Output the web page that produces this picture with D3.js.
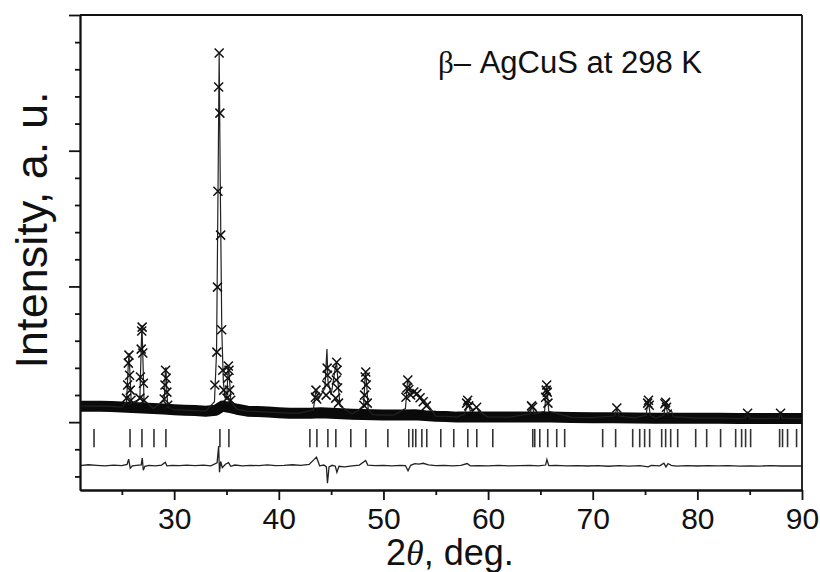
<!DOCTYPE html>
<html>
<head>
<meta charset="utf-8">
<script src="https://cdn.jsdelivr.net/npm/d3@7"></script>
<style>
  body { margin: 0; background: #fff; }
  svg { display: block; font-family: "Liberation Sans", Arial, sans-serif; }
</style>
</head>
<body>
<div class="xrd-chart"></div>
<script>
// Background level of the observed pattern (2theta, counts).
const bgPoints = [
  [21, 118], [22, 118], [23, 118], [24, 116], [25, 111], [26, 108], [27, 104],
  [28, 100], [29, 96], [30, 92], [31, 88], [32, 85], [33, 81], [34, 88],
  [34.6, 118], [35.2, 110], [36, 95], [37, 81], [38, 78], [39, 74], [40, 70],
  [41, 66], [42, 66], [43, 66], [44, 70], [45, 66], [46, 62], [47, 59], [48, 57],
  [49, 55], [50, 52], [51, 52], [52, 52], [53, 55], [54, 48], [55, 44], [56, 42],
  [57, 37], [58, 37], [60, 37], [62, 37], [64, 37], [66, 37], [68, 35], [70, 33],
  [72, 33], [74, 31], [76, 29], [78, 29], [80, 29], [82, 29], [84, 27], [86, 26],
  [88, 26], [90, 26]
];

// Observed points on the reflections (crosses).
const obsPoints = [
  [25.45, 177], [25.55, 273], [25.62, 435], [25.68, 494], [25.74, 346], [25.80, 236], [25.88, 162],
  [26.72, 177], [26.78, 332], [26.85, 538], [26.90, 671], [26.94, 700], [27.00, 509], [27.06, 287], [27.12, 162],
  [29.05, 170], [29.12, 273], [29.18, 383], [29.24, 324], [29.30, 221], [29.38, 125],
  [33.89, 273], [34.08, 516], [34.14, 995], [34.18, 1702], [34.25, 2469], [34.30, 2720],
  [34.37, 2277], [34.44, 1378], [34.54, 681], [34.64, 383], [34.74, 236],
  [35.05, 177], [35.12, 324], [35.18, 413], [35.24, 383], [35.30, 236], [35.40, 162],
  [43.50, 184], [43.55, 236], [43.62, 170],
  [44.52, 199], [44.58, 273], [44.62, 398], [44.66, 346],
  [45.44, 177], [45.49, 310], [45.53, 442], [45.57, 383], [45.62, 251], [45.70, 140],
  [48.12, 125], [48.20, 199], [48.26, 332], [48.31, 369], [48.36, 273], [48.45, 140],
  [52.15, 184], [52.25, 251], [52.33, 310], [52.42, 240], [52.60, 200], [52.90, 222],
  [53.20, 210], [53.50, 180], [53.80, 150], [54.10, 120],
  [57.95, 140], [58.05, 162], [58.15, 120], [58.90, 110],
  [64.15, 120], [64.25, 110],
  [65.50, 184], [65.56, 236], [65.60, 273], [65.65, 221], [65.72, 140],
  [72.30, 104], [75.25, 140], [75.33, 162], [75.40, 125],
  [76.90, 135], [76.97, 147], [77.05, 110], [84.80, 66], [87.95, 66]
];

// Calculated profile on the reflections.
const calcPeakPoints = [
  [25.45, 150], [25.60, 400], [25.68, 509], [25.76, 380], [25.90, 140],
  [26.72, 170], [26.84, 520], [26.92, 715], [27.00, 500], [27.12, 160],
  [29.05, 160], [29.17, 398], [29.22, 400], [29.30, 220], [29.40, 110],
  [33.85, 150], [34.05, 516], [34.20, 1800], [34.30, 2720], [34.40, 1800], [34.55, 681], [34.70, 300], [34.85, 180],
  [35.02, 170], [35.15, 380], [35.20, 420], [35.28, 330], [35.42, 150],
  [43.30, 90], [43.55, 236], [43.80, 170], [44.40, 250], [44.60, 538], [44.70, 300],
  [45.00, 200], [45.40, 400], [45.52, 442], [45.65, 300], [45.85, 120],
  [48.10, 110], [48.25, 340], [48.30, 369], [48.38, 300], [48.55, 90],
  [52.10, 100], [52.30, 300], [52.40, 310], [52.55, 230], [53.00, 222], [53.50, 190], [54.00, 150], [54.60, 90],
  [57.80, 60], [58.05, 162], [58.30, 80], [58.90, 110], [59.10, 80],
  [64.00, 60], [64.20, 125], [64.40, 60], [65.40, 80], [65.60, 273], [65.80, 80],
  [72.10, 45], [72.30, 100], [72.50, 45], [75.10, 50], [75.30, 162], [75.50, 50],
  [76.80, 50], [76.97, 147], [77.15, 60], [77.50, 90], [77.70, 40],
  [84.60, 30], [84.80, 70], [85.00, 30], [87.80, 30], [87.95, 70], [88.10, 30]
];

// Bragg reflection positions (2theta).
const braggPositions = [
  22.34, 25.78, 26.92, 28.07, 29.21, 34.37, 35.23, 42.97, 43.64, 44.69, 45.45, 46.88,
  48.32, 50.42, 52.42, 52.80, 53.09, 53.67, 54.14, 55.48, 56.72, 58.06, 58.92, 60.45,
  64.27, 64.46, 64.94, 65.70, 66.56, 67.32, 70.95, 72.19, 73.82, 74.49, 74.96, 75.44,
  76.59, 76.97, 77.45, 78.12, 79.84, 80.89, 82.22, 83.66, 84.23, 84.61, 85.09, 87.86,
  88.14, 88.62, 89.48
];

// Difference curve (obs - calc, shifted down).
const diffPoints = [
  [21, -320], [21.8, -314], [22.6, -318], [23.4, -322], [24.2, -316], [25.0, -320],
  [25.5, -312], [25.65, -273], [25.8, -340], [26.0, -322], [26.4, -318], [26.85, -315],
  [26.95, -265], [27.05, -354], [27.2, -325], [27.6, -318], [28.2, -322], [28.8, -316],
  [29.15, -296], [29.3, -322], [29.8, -318], [30.5, -321], [31.2, -316], [32.0, -320],
  [32.8, -317], [33.5, -322], [34.1, -300], [34.25, -177], [34.33, -369], [34.45, -290],
  [34.6, -335], [34.9, -310], [35.2, -298], [35.4, -325], [35.8, -316], [36.5, -322],
  [37.3, -318], [38.1, -321], [38.9, -315], [39.7, -320], [40.5, -318], [41.3, -314],
  [42.1, -319], [42.9, -312], [43.6, -258], [43.9, -322], [44.3, -316], [44.55, -330],
  [44.65, -450], [44.8, -330], [45.1, -318], [45.4, -325], [45.55, -369], [45.75, -325],
  [46.3, -330], [47.0, -322], [47.7, -316], [48.3, -282], [48.5, -316], [49.2, -320],
  [50.0, -318], [50.8, -322], [51.6, -318], [52.1, -320], [52.35, -358], [52.6, -318],
  [53.0, -306], [53.4, -310], [53.8, -303], [54.3, -315], [55.0, -320], [55.8, -318],
  [56.6, -322], [57.4, -318], [58.0, -305], [58.3, -322], [59.0, -320], [60.0, -322],
  [61.0, -319], [62.0, -322], [63.0, -320], [64.0, -318], [64.8, -322], [65.5, -316],
  [65.62, -275], [65.8, -320], [66.5, -318], [67.5, -322], [68.5, -320], [69.5, -323],
  [70.5, -320], [71.5, -325], [72.5, -320], [73.5, -324], [74.5, -320], [75.3, -330],
  [75.6, -318], [76.4, -322], [76.8, -302], [77.0, -330], [77.2, -305], [77.5, -318],
  [78.0, -324], [79.0, -321], [80.0, -323], [81.0, -320], [82.0, -322], [83.0, -321],
  [84.0, -324], [85.0, -322], [86.0, -324], [87.0, -320], [88.0, -323], [89.0, -322],
  [90.0, -323]
];

const xMajorTicks = [30, 40, 50, 60, 70, 80, 90];
const xMinorTicks = [25, 35, 45, 55, 65, 75, 85];
const yMajorTicks = [0, 1000, 2000, 3000];
const yMinorTicks = [-400, -200, 200, 400, 600, 800, 1200, 1400, 1600, 1800,
  2200, 2400, 2600, 2800];

// Layout.
const W = 820, H = 572;
const plot = { left: 80, right: 802, top: 15, bottom: 490 };

const svg = d3.select(".xrd-chart").append("svg")
  .attr("width", W).attr("height", H);

// Scales.
const xScale = d3.scaleLinear().domain([21, 90]).range([plot.left, plot.right]);
const yScale = d3.scaleLinear().domain([-500, 3000]).range([plot.bottom, plot.top]);

const lineGen = d3.line()
  .x((d) => xScale(d[0]))
  .y((d) => yScale(d[1]));

// Background band (dense observed points).
svg.append("path")
  .attr("class", "bg-band")
  .attr("d", lineGen(bgPoints))
  .style("fill", "none")
  .style("stroke", "#0a0a0a")
  .style("stroke-width", 11)
  .style("stroke-linejoin", "round")
  .style("stroke-linecap", "butt");

// Calculated line (background + peak profile).
const calcAll = bgPoints
  .filter((b) => !calcPeakPoints.some((p) => Math.abs(p[0] - b[0]) < 0.3))
  .concat(calcPeakPoints)
  .sort((a, b) => a[0] - b[0]);

svg.append("path")
  .attr("class", "calc-line")
  .attr("d", lineGen(calcAll))
  .style("fill", "none")
  .style("stroke", "#222")
  .style("stroke-width", 1.2);

// Observed crosses.
const cs = 4.5;
svg.append("g").attr("class", "obs-points")
  .selectAll("path")
  .data(obsPoints)
  .enter()
  .append("path")
  .attr("transform", (d) => `translate(${xScale(d[0])},${yScale(d[1])})`)
  .attr("d", `M${-cs},${-cs}L${cs},${cs}M${-cs},${cs}L${cs},${-cs}`)
  .style("fill", "none")
  .style("stroke", "#111")
  .style("stroke-width", 1.5);

// Bragg ticks.
svg.append("g").attr("class", "bragg-ticks")
  .selectAll("line")
  .data(braggPositions)
  .enter()
  .append("line")
  .attr("x1", (d) => xScale(d))
  .attr("x2", (d) => xScale(d))
  .attr("y1", yScale(-50))
  .attr("y2", yScale(-185))
  .style("stroke", "#333")
  .style("stroke-width", 1.6);

// Difference curve.
svg.append("path")
  .attr("class", "diff-line")
  .attr("d", lineGen(diffPoints))
  .style("fill", "none")
  .style("stroke", "#222")
  .style("stroke-width", 1.3);

// Axes.
function styleAxis(g) {
  g.selectAll("path, line").style("stroke", "#111").style("stroke-width", 1.8);
  g.selectAll("text").style("font-size", "30px").style("fill", "#111")
    .style("font-family", '"Liberation Sans", Arial, sans-serif');
}

svg.append("g")
  .attr("transform", `translate(0,${plot.bottom})`)
  .call(d3.axisBottom(xScale).tickValues(xMinorTicks).tickSize(5).tickSizeOuter(0).tickFormat(""))
  .call(styleAxis);

svg.append("g")
  .attr("transform", `translate(0,${plot.bottom})`)
  .call(d3.axisBottom(xScale).tickValues(xMajorTicks).tickSize(10).tickSizeOuter(0).tickPadding(8).tickFormat(d3.format("d")))
  .call(styleAxis);

svg.append("g")
  .attr("transform", `translate(${plot.left},0)`)
  .call(d3.axisLeft(yScale).tickValues(yMinorTicks).tickSize(5).tickSizeOuter(0).tickFormat(""))
  .call(styleAxis);

svg.append("g")
  .attr("transform", `translate(${plot.left},0)`)
  .call(d3.axisLeft(yScale).tickValues(yMajorTicks).tickSize(11).tickSizeOuter(0).tickFormat(""))
  .call(styleAxis);

// Frame: top and right.
svg.append("line")
  .attr("x1", plot.left).attr("x2", plot.right)
  .attr("y1", plot.top).attr("y2", plot.top)
  .style("stroke", "#111").style("stroke-width", 1.8);
svg.append("line")
  .attr("x1", plot.right).attr("x2", plot.right)
  .attr("y1", plot.top).attr("y2", plot.bottom)
  .style("stroke", "#111").style("stroke-width", 1.8);

// Title inside plot.
const title = svg.append("text")
  .attr("x", 438).attr("y", 73)
  .style("font-size", "31px").style("fill", "#111");
title.append("tspan").text("β").style("font-family", '"Liberation Serif", serif');
title.append("tspan").text("– AgCuS at 298 K");

// Axis labels.
const xLabel = svg.append("text")
  .attr("x", 386).attr("y", 565)
  .style("font-size", "36px").style("fill", "#111");
xLabel.append("tspan").text("2");
xLabel.append("tspan").text("θ")
  .style("font-family", '"Liberation Serif", serif').style("font-style", "italic");
xLabel.append("tspan").text(", deg.");

svg.append("text")
  .attr("transform", "translate(47,230) rotate(-90)")
  .attr("text-anchor", "middle")
  .style("font-size", "45px").style("fill", "#111")
  .text("Intensity, a. u.");
</script>
</body>
</html>
